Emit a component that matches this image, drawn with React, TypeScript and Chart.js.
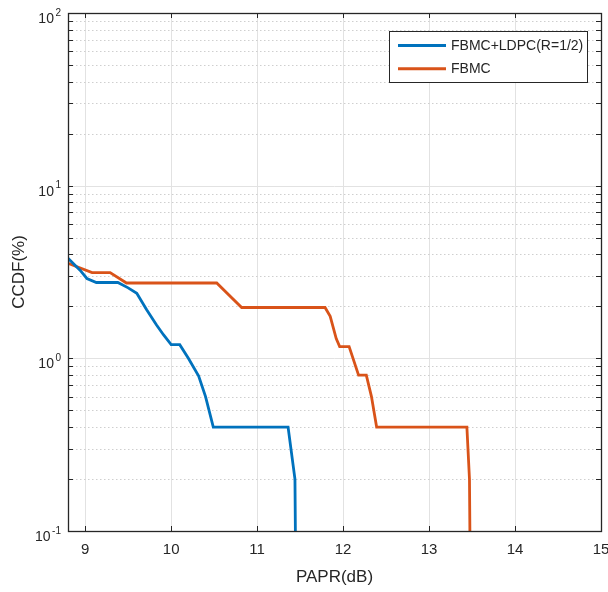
import React, { useEffect, useRef } from 'react';
import { Chart, registerables } from 'chart.js';

Chart.register(...registerables);

// ---- data ----
const xTicks = [9, 10, 11, 12, 13, 14, 15];
const yTicks = [
  0.1, 0.2, 0.3, 0.4, 0.5, 0.6, 0.7, 0.8, 0.9,
  1, 2, 3, 4, 5, 6, 7, 8, 9,
  10, 20, 30, 40, 50, 60, 70, 80, 90,
  100,
];
const yMajorTicks = [0.1, 1, 10, 100];
const yMajorExponents = ['-1', '0', '1', '2'];

const seriesLabels = ['FBMC+LDPC(R=1/2)', 'FBMC'];
const seriesColors = ['#0072BD', '#D95319'];

const ldpcX = [8.8, 8.94, 9.02, 9.13, 9.38, 9.5, 9.6, 9.715, 9.83, 9.91, 10.0, 10.1, 10.2, 10.32, 10.4, 10.49, 11.36, 11.44, 11.45];
const ldpcY = [3.8, 3.24, 2.9, 2.75, 2.75, 2.56, 2.38, 1.91, 1.56, 1.37, 1.2, 1.2, 1.0, 0.79, 0.6, 0.4, 0.4, 0.2, 0.05];

const fbmcX = [8.8, 9.08, 9.29, 9.48, 10.53, 10.82, 11.79, 11.85, 11.92, 11.96, 12.07, 12.18, 12.27, 12.33, 12.39, 13.44, 13.47, 13.48];
const fbmcY = [3.55, 3.14, 3.14, 2.73, 2.73, 1.97, 1.97, 1.75, 1.3, 1.17, 1.17, 0.8, 0.8, 0.6, 0.4, 0.4, 0.2, 0.05];

const xTitle = 'PAPR(dB)';
const yTitle = 'CCDF(%)';

const FONT = "'Liberation Sans', Arial, Helvetica, sans-serif";
const AXIS_COLOR = '#262626';

const matlabAxes = {
  id: 'matlabAxes',
  beforeDatasetsDraw(chart: any) {
    const { ctx, chartArea: a, scales } = chart;
    const y = scales.y;
    ctx.save();
    ctx.beginPath();
    ctx.rect(a.left, a.top, a.right - a.left, a.bottom - a.top);
    ctx.clip();
    ctx.lineWidth = 1;
    yTicks.forEach((v) => {
      const major = yMajorTicks.includes(v);
      const py = Math.round(y.getPixelForValue(v)) + 0.5;
      ctx.strokeStyle = major ? '#e2e2e2' : '#cfcfcf';
      ctx.setLineDash(major ? [] : [1.5, 2.5]);
      ctx.beginPath();
      ctx.moveTo(a.left, py);
      ctx.lineTo(a.right, py);
      ctx.stroke();
    });
    ctx.restore();
  },
  afterDatasetsDraw(chart: any) {
    const { ctx, chartArea: a, scales } = chart;
    const x = scales.x;
    const y = scales.y;
    ctx.save();
    ctx.strokeStyle = AXIS_COLOR;
    ctx.lineWidth = 1;
    const tl = 5;
    xTicks.forEach((v) => {
      const px = Math.round(x.getPixelForValue(v)) + 0.5;
      ctx.beginPath();
      ctx.moveTo(px, a.top);
      ctx.lineTo(px, a.top + tl);
      ctx.moveTo(px, a.bottom);
      ctx.lineTo(px, a.bottom - tl);
      ctx.stroke();
    });
    yTicks.forEach((v) => {
      const py = Math.round(y.getPixelForValue(v)) + 0.5;
      ctx.beginPath();
      ctx.moveTo(a.left, py);
      ctx.lineTo(a.left + tl, py);
      ctx.moveTo(a.right, py);
      ctx.lineTo(a.right - tl, py);
      ctx.stroke();
    });
    ctx.lineWidth = 1.3;
    ctx.strokeRect(Math.round(a.left) + 0.5, Math.round(a.top) + 0.5, Math.round(a.right - a.left), Math.round(a.bottom - a.top));
    ctx.fillStyle = AXIS_COLOR;
    ctx.textBaseline = 'alphabetic';
    yMajorTicks.forEach((v, i) => {
      const py = y.getPixelForValue(v);
      const exp = yMajorExponents[i];
      ctx.font = `10px ${FONT}`;
      const we = ctx.measureText(exp).width;
      ctx.font = `14px ${FONT}`;
      const wb = ctx.measureText('10').width;
      const right = a.left - 7;
      const xe = right - we;
      const xb = xe - 1.5 - wb;
      ctx.textAlign = 'left';
      ctx.fillText('10', xb, py + 10);
      ctx.font = `10px ${FONT}`;
      ctx.fillText(exp, xe, py + 2.5);
    });
    ctx.restore();
  },
  afterDraw(chart: any) {
    const { ctx, chartArea: a } = chart;
    const right = a.right - 14;
    const top = a.top + 18;
    const w = 198;
    const h = 51;
    const left = right - w;
    ctx.save();
    ctx.fillStyle = '#ffffff';
    ctx.fillRect(left, top, w, h);
    ctx.strokeStyle = AXIS_COLOR;
    ctx.lineWidth = 1;
    ctx.strokeRect(Math.round(left) + 0.5, Math.round(top) + 0.5, w, h);
    ctx.font = `14px ${FONT}`;
    ctx.textBaseline = 'middle';
    ctx.textAlign = 'left';
    chart.data.datasets.forEach((ds: any, i: number) => {
      const ly = top + 14.5 + i * 23.3;
      ctx.strokeStyle = ds.borderColor;
      ctx.lineWidth = 3;
      ctx.beginPath();
      ctx.moveTo(left + 9, ly);
      ctx.lineTo(left + 57, ly);
      ctx.stroke();
      ctx.fillStyle = AXIS_COLOR;
      ctx.fillText(ds.label, left + 62, ly + 0.5);
    });
    ctx.restore();
  },
};

export default function App() {
  const canvasRef = useRef<HTMLCanvasElement | null>(null);

  useEffect(() => {
    if (!canvasRef.current) return;
    const chart = new Chart(canvasRef.current, {
      type: 'line',
      data: {
        datasets: [
          {
            label: seriesLabels[0],
            data: ldpcX.map((v, i) => ({ x: v, y: ldpcY[i] })),
            borderColor: seriesColors[0],
            backgroundColor: seriesColors[0],
            borderWidth: 2.8,
            pointRadius: 0,
            tension: 0,
            fill: false,
          },
          {
            label: seriesLabels[1],
            data: fbmcX.map((v, i) => ({ x: v, y: fbmcY[i] })),
            borderColor: seriesColors[1],
            backgroundColor: seriesColors[1],
            borderWidth: 2.8,
            pointRadius: 0,
            tension: 0,
            fill: false,
          },
        ],
      },
      options: {
        animation: false,
        responsive: true,
        maintainAspectRatio: false,
        layout: {
          autoPadding: false,
          padding: { top: 13, right: 7, left: 0, bottom: 0 },
        },
        plugins: {
          legend: { display: false },
          tooltip: { enabled: false },
        },
        scales: {
          x: {
            type: 'linear',
            min: 8.8,
            max: 15,
            afterBuildTicks: (scale: any) => {
              scale.ticks = xTicks.map((v) => ({ value: v }));
            },
            afterFit: (scale: any) => {
              scale.height = 61;
              scale.paddingLeft = 0;
              scale.paddingRight = 0;
            },
            grid: {
              color: '#e2e2e2',
              lineWidth: 1,
              drawTicks: false,
            },
            border: { display: false },
            ticks: {
              padding: 10,
              color: AXIS_COLOR,
              font: { family: FONT, size: 15 },
              maxRotation: 0,
              autoSkip: false,
            },
            title: {
              display: true,
              text: xTitle,
              color: AXIS_COLOR,
              font: { family: FONT, size: 17 },
              padding: { top: 0, bottom: 4 },
            },
          },
          y: {
            type: 'logarithmic',
            min: 0.1,
            max: 100,
            afterBuildTicks: (scale: any) => {
              scale.ticks = yTicks.map((v) => ({ value: v }));
            },
            afterFit: (scale: any) => {
              scale.width = 68;
              scale.paddingTop = 0;
              scale.paddingBottom = 0;
            },
            grid: { drawOnChartArea: false, drawTicks: false },
            border: { display: false },
            ticks: { display: false },
            title: {
              display: true,
              text: yTitle,
              color: AXIS_COLOR,
              font: { family: FONT, size: 17 },
              padding: { top: 9, bottom: 0 },
            },
          },
        },
      },
      plugins: [matlabAxes],
    } as any);
    return () => chart.destroy();
  }, []);

  return (
    <div style={{ position: 'absolute', left: 0, top: 0, width: 608, height: 592, background: '#ffffff' }}>
      <canvas ref={canvasRef} />
    </div>
  );
}
